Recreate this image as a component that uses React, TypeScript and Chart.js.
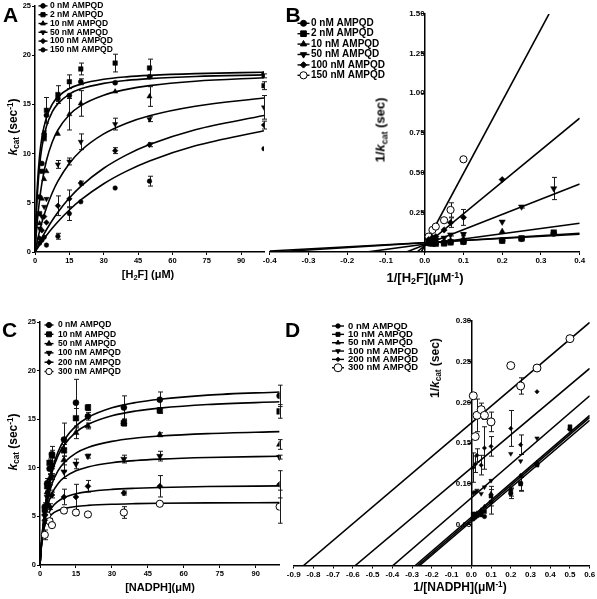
import React, { useEffect, useRef } from "react";
import { Chart, registerables } from "chart.js";
import { drawPoint } from "chart.js/helpers";

Chart.register(...registerables);

const FONT = '"Liberation Sans", Arial, Helvetica, sans-serif';
const W = 597;
const H = 599;

// ---------------- Panel A : kcat vs [H2F] ----------------
const A_LABELS = ["0 nM AMPQD", "2 nM AMPQD", "10 nM AMPQD", "50 nM AMPQD", "100 nM AMPQD", "150 nM AMPQD"];
const A_X = [2, 3, 4, 5, 10, 15, 20, 35, 50, 100];
const A_Y_0 = [5.6, 9.0, 12.0, 13.9, 15.6, 15.9, 17.3, 17.2, 17.8, 18.1];
const A_Y_2 = [3.9, 8.2, 11.6, 14.4, 16.0, 17.3, 18.6, 19.2, 18.7, 16.9];
const A_Y_10 = [2.9, 5.4, 7.4, 8.2, 12.0, 14.0, 15.1, 16.3, 15.8, 17.9];
const A_Y_50 = [2.4, 3.6, 4.6, 5.4, 8.9, 9.2, 11.2, 13.0, 13.5, 14.7];
const A_Y_100 = [1.4, 2.2, 3.6, 3.0, 4.7, 5.4, 7.0, 10.3, 10.9, 12.9];
const A_Y_150 = [0.9, 1.2, 1.5, 0.7, 1.6, 3.9, 5.1, 6.5, 7.2, 10.5];
const A_E_0 = [0, 0, 0.3, 0, 0.3, 0, 0.3, 0, 0, 0];
const A_E_2 = [0, 0, 0.3, 1.3, 0.9, 0.7, 0.6, 0.9, 0.9, 0.4];
const A_E_10 = [0, 0, 0, 0, 0, 1.6, 1.3, 0, 1.0, 0.2];
const A_E_50 = [0, 0, 0, 0, 0.4, 0.35, 0.8, 0.6, 0.25, 1.2];
const A_E_100 = [0, 0, 0, 0, 1.0, 0.9, 0.2, 0.3, 0.2, 0.4];
const A_E_150 = [0, 0, 0, 0, 0.3, 0.7, 0, 0, 0.5, 0];
const A_FIT_X = [0, 0.5, 1, 2, 3, 5, 7.5, 10, 15, 20, 30, 40, 50, 70, 100];
const A_FIT_0 = [0, 4.04, 6.64, 9.79, 11.63, 13.68, 15.0, 15.76, 16.61, 17.06, 17.55, 17.8, 17.95, 18.13, 18.27];
const A_FIT_2 = [0, 3.41, 5.75, 8.76, 10.62, 12.78, 14.23, 15.08, 16.05, 16.58, 17.14, 17.44, 17.62, 17.84, 18.0];
const A_FIT_10 = [0, 1.69, 3.1, 5.31, 6.98, 9.3, 11.16, 12.4, 13.95, 14.88, 15.94, 16.53, 16.91, 17.36, 17.71];
const A_FIT_50 = [0, 0.58, 1.13, 2.12, 3.0, 4.5, 6.0, 7.2, 9.0, 10.29, 12.0, 13.09, 13.85, 14.82, 15.65];
const A_FIT_100 = [0, 0.25, 0.5, 0.97, 1.43, 2.26, 3.2, 4.04, 5.48, 6.67, 8.51, 9.87, 10.92, 12.43, 13.87];
const A_FIT_150 = [0, 0.18, 0.36, 0.71, 1.05, 1.68, 2.41, 3.08, 4.27, 5.29, 6.94, 8.22, 9.25, 10.79, 12.33];
const A_X_TICKS = [0, 15, 30, 45, 60, 75, 90];
const A_Y_TICKS = [0, 5, 10, 15, 20, 25];

// ---------------- Panel B : Lineweaver-Burk (H2F) ----------------
const B_LABELS = A_LABELS;
const B_X = [0.01, 0.02, 0.0286, 0.05, 0.0667, 0.1, 0.2, 0.25, 0.333];
const B_Y_0 = [0.055, 0.056, 0.058, 0.058, 0.063, 0.064, 0.072, 0.083, 0.116];
const B_Y_2 = [0.059, 0.053, 0.052, 0.054, 0.061, 0.065, 0.071, 0.086, 0.122];
const B_X_10 = [0.01, 0.02, 0.0286, 0.05, 0.0667, 0.1, 0.2];
const B_Y_10 = [0.056, 0.063, 0.061, 0.066, 0.071, 0.083, 0.128];
const B_Y_50 = [0.068, 0.074, 0.077, 0.089, 0.109, 0.112, 0.19, 0.285, 0.4];
const B_E_50 = [0, 0, 0, 0, 0.008, 0.01, 0, 0.008, 0.07];
const B_X_100 = [0.01, 0.02, 0.0286, 0.05, 0.0667, 0.1, 0.2];
const B_Y_100 = [0.078, 0.092, 0.097, 0.139, 0.185, 0.218, 0.456];
const B_E_100 = [0, 0, 0, 0, 0.03, 0.05, 0];
const B_X_150 = [0.01, 0.02, 0.0286, 0.05, 0.0667, 0.1];
const B_Y_150 = [0.097, 0.139, 0.16, 0.2, 0.265, 0.584];
const B_E_150 = [0, 0, 0, 0, 0.045, 0];
const B_LINE_X_0 = [-0.4, 0.4];
const B_LINE_Y_0 = [0.006, 0.112];
const B_LINE_X_2 = [-0.4, 0.4];
const B_LINE_Y_2 = [-0.002, 0.118];
const B_LINE_X_10 = [-0.15, 0.4];
const B_LINE_Y_10 = [0, 0.181];
const B_LINE_X_50 = [-0.047, 0.4];
const B_LINE_Y_50 = [0, 0.429];
const B_LINE_X_100 = [-0.02, 0.4];
const B_LINE_Y_100 = [0, 0.843];
const B_LINE_X_150 = [-0.0088, 0.3209];
const B_LINE_Y_150 = [0, 1.5];
const B_X_TICKS = [-0.4, -0.3, -0.2, -0.1, 0, 0.1, 0.2, 0.3, 0.4];
const B_Y_TICKS = [0.25, 0.5, 0.75, 1.0, 1.25, 1.5];

// ---------------- Panel C : kcat vs [NADPH] ----------------
const C_LABELS = ["0 nM AMPQD", "10 nM AMPQD", "50 nM AMPQD", "100 nM AMPQD", "200 nM AMPQD", "300 nM AMPQD"];
const C_X = [2, 3, 4, 5, 10, 15, 20, 35, 50, 100];
const C_Y_0 = [6.0, 8.4, 9.9, 11.4, 12.9, 16.7, 15.3, 16.2, 17.0, 17.4];
const C_Y_10 = [5.7, 8.1, 10.5, 11.3, 11.8, 15.1, 16.2, 14.6, 15.9, 15.8];
const C_Y_50 = [5.3, 7.5, 8.9, 10.3, 10.8, 13.6, 14.3, 14.7, 13.4, 12.4];
const C_Y_100 = [5.0, 7.0, 8.1, 9.1, 9.6, 10.4, 11.2, 10.9, 11.2, 11.1];
const C_Y_200 = [4.6, 6.3, 6.0, 7.2, 7.0, 7.0, 8.1, 7.4, 8.1, 8.3];
const C_Y_300 = [3.1, 5.1, 4.5, 4.1, 5.6, 5.4, 5.2, 5.4, 6.3, 6.0];
const C_E_0 = [0.4, 0.5, 0.5, 0.4, 1.7, 2.4, 0.4, 1.2, 0.8, 1.1];
const C_E_10 = [0.3, 0.5, 0.4, 0.9, 0.6, 1.0, 0.3, 0.3, 0.3, 0.7];
const C_E_50 = [0.3, 0.4, 0.4, 0.4, 1.2, 0.6, 0.3, 0.3, 0.2, 0.5];
const C_E_100 = [0.3, 0.3, 0.4, 0.3, 0.7, 0.5, 0.2, 0.4, 0.5, 0.2];
const C_E_200 = [0.3, 0.3, 0.3, 0.3, 0.8, 1.3, 0.6, 0.2, 1.1, 1.4];
const C_E_300 = [0.5, 0.3, 0.3, 0.2, 0.3, 0.3, 0.2, 0.6, 0.2, 1.7];
const C_FIT_X = [0, 0.5, 1, 2, 3, 5, 7.5, 10, 15, 20, 30, 40, 50, 70, 100];
const C_FIT_0 = [0, 1.86, 3.38, 5.72, 7.44, 9.79, 11.63, 12.83, 14.31, 15.18, 16.17, 16.72, 17.06, 17.48, 17.8];
const C_FIT_10 = [0, 1.86, 3.37, 5.65, 7.29, 9.51, 11.22, 12.32, 13.67, 14.46, 15.35, 15.84, 16.14, 16.51, 16.79];
const C_FIT_50 = [0, 1.78, 3.16, 5.16, 6.55, 8.35, 9.68, 10.52, 11.51, 12.09, 12.72, 13.06, 13.27, 13.52, 13.72];
const C_FIT_100 = [0, 1.74, 3.03, 4.79, 5.95, 7.37, 8.37, 8.98, 9.69, 10.09, 10.52, 10.75, 10.89, 11.06, 11.19];
const C_FIT_200 = [0, 1.66, 2.77, 4.15, 4.98, 5.93, 6.55, 6.92, 7.32, 7.55, 7.78, 7.9, 7.98, 8.07, 8.14];
const C_FIT_300 = [0, 1.91, 2.95, 4.06, 4.64, 5.24, 5.6, 5.8, 6.02, 6.13, 6.25, 6.31, 6.35, 6.39, 6.42];
const C_X_TICKS = [0, 15, 30, 45, 60, 75, 90];
const C_Y_TICKS = [0, 5, 10, 15, 20, 25];

// ---------------- Panel D : Lineweaver-Burk (NADPH) ----------------
const D_LABELS = C_LABELS;
const D_X = [0.01, 0.02, 0.0286, 0.05, 0.0667, 0.1, 0.2, 0.25, 0.333, 0.5];
const D_Y_0 = [0.057, 0.059, 0.062, 0.065, 0.06, 0.078, 0.088, 0.101, 0.124, 0.167];
const D_Y_10 = [0.063, 0.063, 0.061, 0.062, 0.066, 0.085, 0.09, 0.1, 0.123, 0.17];
const D_Y_50 = [0.061, 0.062, 0.064, 0.068, 0.072, 0.088, 0.094, 0.11, 0.126, 0.168];
const D_E_0 = [0, 0, 0, 0, 0, 0.015, 0.006, 0.01, 0, 0];
const D_E_10 = [0, 0, 0, 0, 0, 0.012, 0.005, 0.008, 0, 0];
const D_E_50 = [0, 0, 0, 0, 0, 0, 0, 0, 0, 0];
const D_X_100 = [0.01, 0.02, 0.0286, 0.05, 0.0667, 0.1, 0.2, 0.25, 0.333];
const D_Y_100 = [0.089, 0.09, 0.092, 0.088, 0.096, 0.104, 0.137, 0.128, 0.156];
const D_E_100 = [0, 0, 0, 0, 0, 0, 0, 0, 0];
const D_Y_200 = [0.12, 0.124, 0.135, 0.123, 0.144, 0.146, 0.168, 0.148, 0.213];
const D_E_200 = [0.018, 0.01, 0.008, 0.012, 0.026, 0.012, 0.022, 0.012, 0];
const D_Y_300 = [0.208, 0.158, 0.184, 0.191, 0.184, 0.176, 0.245, 0.22, 0.242, 0.278];
const D_E_300 = [0, 0, 0.02, 0.008, 0.005, 0.012, 0, 0.01, 0, 0];
const D_LINE_X_0 = [-0.272, 0.6];
const D_LINE_Y_0 = [0, 0.1815];
const D_LINE_X_10 = [-0.262, 0.6];
const D_LINE_Y_10 = [0, 0.178];
const D_LINE_X_50 = [-0.284, 0.6];
const D_LINE_Y_50 = [0, 0.184];
const D_LINE_X_100 = [-0.397, 0.6];
const D_LINE_Y_100 = [0, 0.208];
const D_LINE_X_200 = [-0.588, 0.6];
const D_LINE_Y_200 = [0, 0.2415];
const D_LINE_X_300 = [-0.85, 0.6];
const D_LINE_Y_300 = [0, 0.298];
const D_X_TICKS = [-0.9, -0.8, -0.7, -0.6, -0.5, -0.4, -0.3, -0.2, -0.1, 0, 0.1, 0.2, 0.3, 0.4, 0.5, 0.6];
const D_Y_TICKS = [0.05, 0.1, 0.15, 0.2, 0.25, 0.3];

// ---------------- helpers ----------------
const mk = (style: string, rot: number, r: number, open = false) => ({ style, rot, r, open });

const fmtInt = (v: number) => String(Math.round(v));
const fmt1 = (v: number) => (Math.abs(v) < 1e-9 ? "0.0" : v.toFixed(1));
const fmt2 = (v: number) => v.toFixed(2);

function makeErrorPlugin(series: any[]) {
  return {
    id: "errorBars",
    beforeDatasetsDraw(chart: any) {
      const { ctx, chartArea, scales } = chart;
      ctx.save();
      ctx.beginPath();
      ctx.rect(chartArea.left - 3, chartArea.top - 3, chartArea.width + 6, chartArea.height + 3);
      ctx.clip();
      ctx.strokeStyle = "#1a1a1a";
      ctx.lineWidth = 1;
      const cap = 2.5;
      series.forEach((s) => {
        s.x.forEach((xv: number, i: number) => {
          const e = s.err ? s.err[i] : 0;
          if (!e) return;
          const px = Math.round(scales.x.getPixelForValue(xv)) + 0.5;
          const y1 = scales.y.getPixelForValue(s.y[i] + e);
          const y2 = scales.y.getPixelForValue(s.y[i] - e);
          ctx.beginPath();
          ctx.moveTo(px, y1);
          ctx.lineTo(px, y2);
          ctx.moveTo(px - cap, y1);
          ctx.lineTo(px + cap, y1);
          ctx.moveTo(px - cap, y2);
          ctx.lineTo(px + cap, y2);
          ctx.stroke();
        });
      });
      ctx.restore();
    },
  };
}

function makeLegendPlugin(leg: any, series: any[]) {
  return {
    id: "panelLegend",
    afterDraw(chart: any) {
      const ctx = chart.ctx;
      ctx.save();
      ctx.font = `bold ${leg.size}px ${FONT}`;
      ctx.textBaseline = "middle";
      ctx.textAlign = "left";
      series.forEach((s, i) => {
        const y = leg.y + i * leg.step;
        ctx.strokeStyle = "#000";
        ctx.lineWidth = 1.4;
        ctx.beginPath();
        ctx.moveTo(leg.x - leg.half, y);
        ctx.lineTo(leg.x + leg.half, y);
        ctx.stroke();
        ctx.fillStyle = s.m.open ? "#fff" : "#000";
        ctx.lineWidth = 1;
        drawPoint(ctx, { pointStyle: s.m.style, rotation: s.m.rot, radius: leg.r * (s.m.r / leg.base), borderWidth: 1 } as any, leg.x, y);
        ctx.fillStyle = "#000";
        ctx.fillText(s.label, leg.textX, y);
      });
      ctx.restore();
    },
  };
}

function axis(min: number, max: number, ticks: number[], fmt: (v: number) => string, fontSize: number, extra: any) {
  return {
    type: "linear",
    min,
    max,
    afterBuildTicks: (s: any) => {
      s.ticks = ticks.map((v) => ({ value: v }));
    },
    ticks: {
      callback: (v: any) => fmt(Number(v)),
      font: { family: FONT, size: fontSize, weight: "bold" },
      color: "#000",
      padding: 1,
      autoSkip: false,
      maxRotation: 0,
      minRotation: 0,
    },
    grid: { display: true, drawOnChartArea: false, drawTicks: true, tickLength: 3, color: "#000", lineWidth: 1 },
    border: { display: true, color: "#000", width: 1.5 },
    ...extra,
  };
}

function buildConfig(p: any) {
  const datasets: any[] = [];
  p.series.forEach((s: any) => {
    datasets.push({
      label: s.label,
      data: s.x.map((x: number, i: number) => ({ x, y: s.y[i] })),
      showLine: false,
      pointStyle: s.m.style,
      pointRotation: s.m.rot,
      pointRadius: s.m.r,
      pointHoverRadius: s.m.r,
      pointBackgroundColor: s.m.open ? "#ffffff" : "#000000",
      pointBorderColor: "#000000",
      pointBorderWidth: s.m.open ? 1 : 0.5,
      borderColor: "#000",
    });
  });
  p.fits.forEach((f: any) => {
    datasets.push({
      data: f.x.map((x: number, i: number) => ({ x, y: f.y[i] })),
      showLine: true,
      pointRadius: 0,
      pointHoverRadius: 0,
      pointHitRadius: 0,
      borderColor: "#000",
      borderWidth: 1.6,
      cubicInterpolationMode: f.curve ? "monotone" : "default",
      tension: 0,
      fill: false,
    });
  });
  const zeroPad = (s: any) => {
    s.paddingLeft = 0;
    s.paddingRight = 0;
    s.paddingTop = 0;
    s.paddingBottom = 0;
  };
  const ca = p.area;
  const xAxisH = 20;
  const yAxisW = 30;
  return {
    type: "line",
    data: { datasets },
    options: {
      animation: false,
      responsive: false,
      devicePixelRatio: 1,
      events: [],
      layout: {
        padding: {
          left: p.yAtZero ? ca.left : ca.left - yAxisW,
          right: W - ca.right,
          top: ca.top,
          bottom: H - ca.bottom - xAxisH,
        },
      },
      scales: {
        x: axis(p.xMin, p.xMax, p.xTicks, p.xFmt, p.tickFont, {
          position: "bottom",
          afterFit: (s: any) => {
            s.height = xAxisH;
            zeroPad(s);
          },
        }),
        y: axis(p.yMin, p.yMax, p.yTicks, p.yFmt, p.tickFont, {
          position: p.yAtZero ? { x: 0 } : "left",
          afterFit: (s: any) => {
            if (!p.yAtZero) s.width = yAxisW;
            zeroPad(s);
          },
        }),
      },
      plugins: { legend: { display: false }, tooltip: { enabled: false } },
    },
    plugins: [makeErrorPlugin(p.series), makeLegendPlugin(p.legend, p.series)],
  };
}

// ---------------- panel specs ----------------
const AB_MARK_A = [mk("circle", 0, 2.5), mk("rect", 0, 3.2), mk("triangle", 0, 3), mk("triangle", 180, 3), mk("rectRot", 0, 2.8), mk("circle", 0, 2.3)];
const AB_MARK_B = [mk("circle", 0, 3), mk("rect", 0, 4), mk("triangle", 0, 3.6), mk("triangle", 180, 3.6), mk("rectRot", 0, 3.2), mk("circle", 0, 3.6, true)];
const CD_MARK_C = [mk("circle", 0, 3), mk("rect", 0, 4), mk("triangle", 0, 3.6), mk("triangle", 180, 3.6), mk("rectRot", 0, 3), mk("circle", 0, 3.6, true)];
const CD_MARK_D = [mk("circle", 0, 2.2), mk("rect", 0, 2.8), mk("triangle", 0, 2.6), mk("triangle", 180, 2.6), mk("rectRot", 0, 2.2), mk("circle", 0, 4, true)];

const PANEL_A = {
  area: { left: 35, right: 264, top: 6, bottom: 252 },
  xMin: 0, xMax: 100, yMin: 0, yMax: 25,
  xTicks: A_X_TICKS, yTicks: A_Y_TICKS, xFmt: fmtInt, yFmt: fmtInt, tickFont: 7.5, yAtZero: false,
  series: [
    { label: A_LABELS[0], m: AB_MARK_A[0], x: A_X, y: A_Y_0, err: A_E_0 },
    { label: A_LABELS[1], m: AB_MARK_A[1], x: A_X, y: A_Y_2, err: A_E_2 },
    { label: A_LABELS[2], m: AB_MARK_A[2], x: A_X, y: A_Y_10, err: A_E_10 },
    { label: A_LABELS[3], m: AB_MARK_A[3], x: A_X, y: A_Y_50, err: A_E_50 },
    { label: A_LABELS[4], m: AB_MARK_A[4], x: A_X, y: A_Y_100, err: A_E_100 },
    { label: A_LABELS[5], m: AB_MARK_A[5], x: A_X, y: A_Y_150, err: A_E_150 },
  ],
  fits: [
    { x: A_FIT_X, y: A_FIT_0, curve: true },
    { x: A_FIT_X, y: A_FIT_2, curve: true },
    { x: A_FIT_X, y: A_FIT_10, curve: true },
    { x: A_FIT_X, y: A_FIT_50, curve: true },
    { x: A_FIT_X, y: A_FIT_100, curve: true },
    { x: A_FIT_X, y: A_FIT_150, curve: true },
  ],
  legend: { x: 43, half: 4.5, textX: 50, y: 5.9, step: 8.8, size: 8.5, r: 2.3, base: 2.5 },
};

const PANEL_B = {
  area: { left: 269.7, right: 579.7, top: 13.9, bottom: 252 },
  xMin: -0.4, xMax: 0.4, yMin: 0, yMax: 1.5,
  xTicks: B_X_TICKS, yTicks: B_Y_TICKS, xFmt: fmt1, yFmt: fmt2, tickFont: 8, yAtZero: true,
  series: [
    { label: B_LABELS[0], m: AB_MARK_B[0], x: B_X, y: B_Y_0, err: null },
    { label: B_LABELS[1], m: AB_MARK_B[1], x: B_X, y: B_Y_2, err: null },
    { label: B_LABELS[2], m: AB_MARK_B[2], x: B_X_10, y: B_Y_10, err: null },
    { label: B_LABELS[3], m: AB_MARK_B[3], x: B_X, y: B_Y_50, err: B_E_50 },
    { label: B_LABELS[4], m: AB_MARK_B[4], x: B_X_100, y: B_Y_100, err: B_E_100 },
    { label: B_LABELS[5], m: AB_MARK_B[5], x: B_X_150, y: B_Y_150, err: B_E_150 },
  ],
  fits: [
    { x: B_LINE_X_0, y: B_LINE_Y_0, curve: false },
    { x: B_LINE_X_2, y: B_LINE_Y_2, curve: false },
    { x: B_LINE_X_10, y: B_LINE_Y_10, curve: false },
    { x: B_LINE_X_50, y: B_LINE_Y_50, curve: false },
    { x: B_LINE_X_100, y: B_LINE_Y_100, curve: false },
    { x: B_LINE_X_150, y: B_LINE_Y_150, curve: false },
  ],
  legend: { x: 303.5, half: 6, textX: 311, y: 23.3, step: 10.4, size: 10, r: 3, base: 3 },
};

const PANEL_C = {
  area: { left: 40, right: 279.6, top: 322, bottom: 565 },
  xMin: 0, xMax: 100, yMin: 0, yMax: 25,
  xTicks: C_X_TICKS, yTicks: C_Y_TICKS, xFmt: fmtInt, yFmt: fmtInt, tickFont: 7.5, yAtZero: false,
  series: [
    { label: C_LABELS[0], m: CD_MARK_C[0], x: C_X, y: C_Y_0, err: C_E_0 },
    { label: C_LABELS[1], m: CD_MARK_C[1], x: C_X, y: C_Y_10, err: C_E_10 },
    { label: C_LABELS[2], m: CD_MARK_C[2], x: C_X, y: C_Y_50, err: C_E_50 },
    { label: C_LABELS[3], m: CD_MARK_C[3], x: C_X, y: C_Y_100, err: C_E_100 },
    { label: C_LABELS[4], m: CD_MARK_C[4], x: C_X, y: C_Y_200, err: C_E_200 },
    { label: C_LABELS[5], m: CD_MARK_C[5], x: C_X, y: C_Y_300, err: C_E_300 },
  ],
  fits: [
    { x: C_FIT_X, y: C_FIT_0, curve: true },
    { x: C_FIT_X, y: C_FIT_10, curve: true },
    { x: C_FIT_X, y: C_FIT_50, curve: true },
    { x: C_FIT_X, y: C_FIT_100, curve: true },
    { x: C_FIT_X, y: C_FIT_200, curve: true },
    { x: C_FIT_X, y: C_FIT_300, curve: true },
  ],
  legend: { x: 49, half: 4.5, textX: 58, y: 325, step: 9.3, size: 8.5, r: 2.6, base: 3 },
};

const PANEL_D = {
  area: { left: 293.7, right: 589.7, top: 320.7, bottom: 565.5 },
  xMin: -0.9, xMax: 0.6, yMin: 0, yMax: 0.3,
  xTicks: D_X_TICKS, yTicks: D_Y_TICKS, xFmt: fmt1, yFmt: fmt2, tickFont: 8, yAtZero: true,
  series: [
    { label: D_LABELS[0], m: CD_MARK_D[0], x: D_X, y: D_Y_0, err: D_E_0 },
    { label: D_LABELS[1], m: CD_MARK_D[1], x: D_X, y: D_Y_10, err: D_E_10 },
    { label: D_LABELS[2], m: CD_MARK_D[2], x: D_X, y: D_Y_50, err: D_E_50 },
    { label: D_LABELS[3], m: CD_MARK_D[3], x: D_X_100, y: D_Y_100, err: D_E_100 },
    { label: D_LABELS[4], m: CD_MARK_D[4], x: D_X_100, y: D_Y_200, err: D_E_200 },
    { label: D_LABELS[5], m: CD_MARK_D[5], x: D_X, y: D_Y_300, err: D_E_300 },
  ],
  fits: [
    { x: D_LINE_X_0, y: D_LINE_Y_0, curve: false },
    { x: D_LINE_X_10, y: D_LINE_Y_10, curve: false },
    { x: D_LINE_X_50, y: D_LINE_Y_50, curve: false },
    { x: D_LINE_X_100, y: D_LINE_Y_100, curve: false },
    { x: D_LINE_X_200, y: D_LINE_Y_200, curve: false },
    { x: D_LINE_X_300, y: D_LINE_Y_300, curve: false },
  ],
  legend: { x: 338, half: 6, textX: 348, y: 326, step: 8.35, size: 9.5, r: 2.2, base: 2.2 },
};

function Panel({ spec }: { spec: any }) {
  const ref = useRef<HTMLCanvasElement | null>(null);
  useEffect(() => {
    if (!ref.current) return;
    const chart = new Chart(ref.current, buildConfig(spec) as any);
    return () => chart.destroy();
  }, [spec]);
  return (
    <canvas
      ref={ref}
      width={W}
      height={H}
      style={{ position: "absolute", left: 0, top: 0, width: W, height: H }}
    />
  );
}

const subStyle: React.CSSProperties = { fontSize: "0.68em", verticalAlign: "-0.3em", lineHeight: 0 };
const supStyle: React.CSSProperties = { fontSize: "0.68em", verticalAlign: "0.45em", lineHeight: 0 };

function Title({ x, y, size, rotate, children }: any) {
  return (
    <div
      style={{
        position: "absolute",
        left: x,
        top: y,
        transform: `translate(-50%, -50%)${rotate ? " rotate(-90deg)" : ""}`,
        font: `bold ${size}px ${FONT}`,
        lineHeight: 1,
        whiteSpace: "nowrap",
        color: "#000",
      }}
    >
      {children}
    </div>
  );
}

function Letter({ x, y, children }: any) {
  return (
    <div style={{ position: "absolute", left: x, top: y, font: `bold 21px ${FONT}`, lineHeight: "21px", color: "#000" }}>
      {children}
    </div>
  );
}

const kcat = (
  <>
    <i>k</i>
    <sub style={subStyle}>cat</sub>
  </>
);

export default function App() {
  return (
    <div style={{ position: "absolute", left: 0, top: 0, width: W, height: H, background: "#fff", overflow: "hidden" }}>
      <Panel spec={PANEL_A} />
      <Panel spec={PANEL_B} />
      <Panel spec={PANEL_C} />
      <Panel spec={PANEL_D} />

      <Letter x={3} y={4.3}>A</Letter>
      <Letter x={285.5} y={4.3}>B</Letter>
      <Letter x={2} y={319.3}>C</Letter>
      <Letter x={285} y={319.3}>D</Letter>

      <Title x={148} y={274} size={11}>
        [H<sub style={subStyle}>2</sub>F] (μM)
      </Title>
      <Title x={13} y={127} size={12} rotate>
        {kcat} (sec<sup style={supStyle}>-1</sup>)
      </Title>

      <Title x={425} y={277} size={13}>
        1/[H<sub style={subStyle}>2</sub>F](μM<sup style={supStyle}>-1</sup>)
      </Title>
      <Title x={379.5} y={130} size={13} rotate>
        1/{kcat} (sec)
      </Title>

      <Title x={160} y={587} size={11}>
        [NADPH](μM)
      </Title>
      <Title x={13.3} y={442} size={12} rotate>
        {kcat} (sec<sup style={supStyle}>-1</sup>)
      </Title>

      <Title x={460} y={587} size={12}>
        1/[NADPH](μM<sup style={supStyle}>-1</sup>)
      </Title>
      <Title x={435} y={368} size={12} rotate>
        1/{kcat} (sec)
      </Title>
    </div>
  );
}
